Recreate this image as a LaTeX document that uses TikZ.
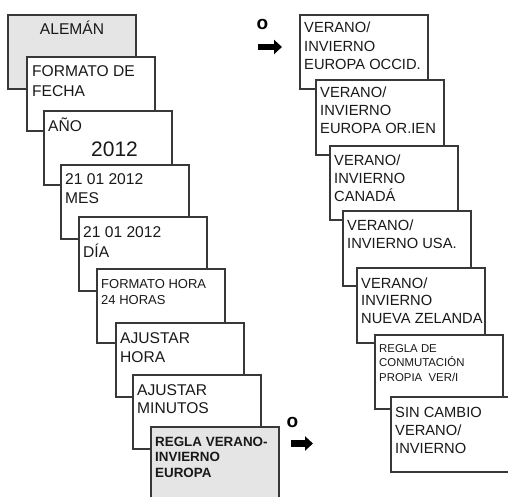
\documentclass[tikz,border=0pt]{standalone}
\usepackage{fontspec}
\setmainfont{Liberation Sans}
\usetikzlibrary{arrows.meta}

% stacked lines of a menu panel, baseline of the box = baseline of the first line
\newcommand\panellines[1]{\parbox[t]{124pt}{\raggedright #1}}

\begin{document}
\begin{tikzpicture}[x=1pt,y=-1pt,
  panel/.style={draw=black!78, line width=1.2pt, fill=white, anchor=north west,
    minimum width=128pt, minimum height=74pt, inner sep=0pt, outer sep=0pt},
  shaded/.style={panel, fill=black!10},
  txt/.style={anchor=base west, inner sep=0pt, text=black!90},
  bigtxt/.style={txt, font=\fontsize{15.6}{20}\selectfont},
  righttxt/.style={txt, font=\fontsize{14.7}{18}\selectfont},
  smalltxt/.style={txt, font=\fontsize{13}{16}\selectfont},
  boldtxt/.style={txt, font=\bfseries\fontsize{13.4}{15.5}\selectfont},
  tinytxt/.style={txt, font=\fontsize{11.4}{14.5}\selectfont},
  ortxt/.style={inner sep=0pt, text=black, font=\bfseries\fontsize{19}{19}\selectfont},
  fatarrow/.style={line width=6.5pt, draw=black, -{Triangle[length=8pt,width=14pt]}}]

\useasboundingbox (0,0) rectangle (508,497);
\clip (0,0) rectangle (508,497);

% ---- left cascade: date and time settings ----
\node[shaded] (b1) at (8,15) {};
\node[bigtxt, anchor=base] (t1) at ([shift={(64,20)}]b1.north west) {ALEMÁN};

\node[panel] (b2) at (27,57) {};
\node[bigtxt] (t2) at ([shift={(5,20)}]b2.north west) {\panellines{FORMATO DE\\FECHA}};

\node[panel] (b3) at (44,111) {};
\node[bigtxt] (t3) at ([shift={(4,21)}]b3.north west) {AÑO};
\node[txt, font=\fontsize{21}{21}\selectfont] (y3) at ([shift={(47,46)}]b3.north west) {2012};

\node[panel] (b4) at (61,165) {};
\node[bigtxt] (t4) at ([shift={(4,20)}]b4.north west) {\fontsize{15.6}{19}\selectfont\panellines{21 01 2012\\MES}};

\node[panel] (b5) at (79,217) {};
\node[bigtxt] (t5) at ([shift={(4,20)}]b5.north west) {\panellines{21 01 2012\\DÍA}};

\node[panel] (b6) at (97,269) {};
\node[smalltxt] (t6) at ([shift={(4,19)}]b6.north west) {\panellines{FORMATO HORA\\24 HORAS}};

\node[panel] (b7) at (116,323) {};
\node[bigtxt] (t7) at ([shift={(4,20)}]b7.north west) {\fontsize{15.6}{19}\selectfont\panellines{AJUSTAR\\HORA}};

\node[panel] (b8) at (133,375) {};
\node[bigtxt] (t8) at ([shift={(4,20)}]b8.north west) {\fontsize{15.6}{18.5}\selectfont\panellines{AJUSTAR\\MINUTOS}};

\node[shaded, minimum height=100pt] (b9) at (151,427) {};
\node[boldtxt] (t9) at ([shift={(4,19)}]b9.north west) {\panellines{REGLA VERANO-\\INVIERNO\\EUROPA}};

% ---- right cascade: summer/winter time rules ----
\node[panel] (r1) at (300,15) {};
\node[righttxt] (s1) at ([shift={(4,18)}]r1.north west) {\fontsize{14.7}{18.5}\selectfont\panellines{VERANO/\\INVIERNO\\EUROPA OCCID.}};

\node[panel, minimum height=75pt] (r2) at (316,80) {};
\node[righttxt] (s2) at ([shift={(4,18)}]r2.north west) {\panellines{VERANO/\\INVIERNO\\EUROPA OR.IEN}};

\node[panel] (r3) at (330,146) {};
\node[righttxt] (s3) at ([shift={(4,19)}]r3.north west) {\panellines{VERANO/\\INVIERNO\\CANADÁ}};

\node[panel, minimum height=75pt] (r4) at (343,211) {};
\node[righttxt] (s4) at ([shift={(4,19)}]r4.north west) {\panellines{VERANO/\\INVIERNO USA.}};

\node[panel, minimum height=75pt] (r5) at (357,268) {};
\node[righttxt] (s5) at ([shift={(4,20)}]r5.north west) {\fontsize{14.7}{17.7}\selectfont\panellines{VERANO/\\INVIERNO\\NUEVA ZELANDA}};

\node[panel] (r6) at (375,335) {};
\node[tinytxt] (s6) at ([shift={(4,17)}]r6.north west) {\panellines{REGLA DE\\CONMUTACIÓN\\PROPIA\ \ VER/I}};

\node[panel, minimum height=75pt] (r7) at (391,397) {};
\node[righttxt] (s7) at ([shift={(4,20)}]r7.north west) {\panellines{SIN CAMBIO\\VERANO/\\INVIERNO}};

% ---- "or" markers with arrows ----
\node[ortxt] (o1) at (262.5,24) {o};
\coordinate (a1s) at (258,47);
\coordinate (a1e) at (282,47);
\draw[fatarrow] (a1s) -- (a1e);

\node[ortxt] (o2) at (292.5,422) {o};
\coordinate (a2s) at (291,443.5);
\coordinate (a2e) at (313,443.5);
\draw[fatarrow] (a2s) -- (a2e);

\end{tikzpicture}
\end{document}
